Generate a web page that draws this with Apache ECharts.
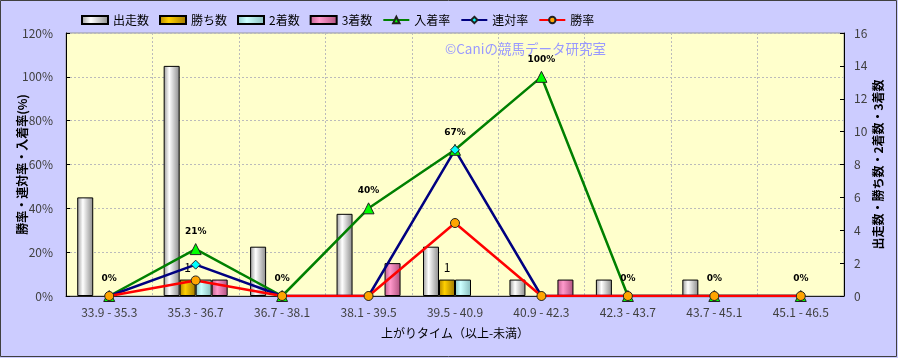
<!DOCTYPE html>
<html><head><meta charset="utf-8">
<script src="https://cdn.jsdelivr.net/npm/echarts@6/dist/echarts.min.js"></script>
<style>html,body{margin:0;padding:0;background:#ccccff;}#c{width:898px;height:358px;}</style>
</head><body><div id="c"></div>
<script>
const categories = ['33.9 - 35.3','35.3 - 36.7','36.7 - 38.1','38.1 - 39.5','39.5 - 40.9','40.9 - 42.3','42.3 - 43.7','43.7 - 45.1','45.1 - 46.5'];
const starts = [6, 14, 3, 5, 3, 1, 1, 1, 0];
const wins = [0, 1, 0, 0, 1, 0, 0, 0, 0];
const seconds = [0, 1, 0, 0, 1, 0, 0, 0, 0];
const thirds = [0, 1, 0, 2, 0, 1, 0, 0, 0];
const placeRate = [0, 21.4, 0, 40, 66.7, 100, 0, 0, 0];
const quinellaRate = [0, 14.3, 0, 0, 66.7, 0, 0, 0, 0];
const winRate = [0, 7.1, 0, 0, 33.3, 0, 0, 0, 0];

const FONT = '"Noto Sans CJK JP", "Noto Sans", sans-serif';
function cyl(edge, mid, edge2) {
  return {type:'linear', x:0, y:0, x2:1, y2:0, colorStops:[
    {offset:0, color:edge},{offset:0.35, color:mid},{offset:1, color:edge2}]};
}
function barSeries(name, data, grad, label) {
  return {
    name, type:'bar', yAxisIndex:1,
    data: data.map(v => v === 0 ? {value:0, itemStyle:{borderWidth:0, opacity:0}} : v),
    barWidth:16, barGap:'0%',
    itemStyle:{color:grad, borderColor:'#000', borderWidth:1},
    label: label ? {show:true, position:'top', distance:6, color:'#000', fontSize:12, fontFamily:FONT,
      formatter:p => p.value ? String(p.value) : ''} : {show:false},
    z:2
  };
}
function lineSeries(name, data, color, symbol, symColor, size, labels) {
  return {
    name, type:'line', yAxisIndex:0, data, symbol, symbolSize:size,
    lineStyle:{color, width:2.5},
    itemStyle:{color:symColor, borderColor:'#222', borderWidth:1},
    label: labels ? {show:true, position:'top', distance:7, color:'#000', fontSize:9, fontWeight:'bold',
      fontFamily:'"DejaVu Sans", sans-serif', formatter:p => Math.round(p.value) + '%'} : {show:false},
    z:5
  };
}
const chart = echarts.init(document.getElementById('c'), null, {renderer:'canvas'});
chart.setOption({
  animation:false,
  backgroundColor:'#ccccff',
  textStyle:{fontFamily:FONT},
  legend:{
    left:76, top:9, itemWidth:26, itemHeight:8, itemGap:10,
    textStyle:{fontSize:12, color:'#000', fontFamily:FONT},
    data:[
      {name:'出走数', icon:'rect'},{name:'勝ち数', icon:'rect'},{name:'2着数', icon:'rect'},{name:'3着数', icon:'rect'},
      {name:'入着率'},{name:'連対率'},{name:'勝率'}
    ]
  },
  grid:{left:66, right:54, top:33, bottom:62, containLabel:false, outerBoundsMode:'none',
        show:true, backgroundColor:'#ffffcc', borderColor:'#999', borderWidth:1},
  xAxis:{
    type:'category', data:categories, boundaryGap:true,
    name:'上がりタイム（以上-未満）', nameLocation:'middle', nameGap:31,
    nameTextStyle:{fontSize:12, color:'#000', fontFamily:FONT},
    axisLine:{lineStyle:{color:'#222'}}, axisTick:{show:false},
    axisLabel:{fontSize:12, color:'#404040', margin:10, fontFamily:FONT},
    splitLine:{show:true, lineStyle:{type:[2,2], color:'#bbb'}}
  },
  yAxis:[
    {type:'value', min:0, max:120, interval:20, position:'left',
     name:'勝率・連対率・入着率(%)', nameLocation:'middle', nameGap:38, nameRotate:90, nameMoveOverlap:false,
     nameTextStyle:{fontSize:12, fontWeight:'bold', color:'#000', fontFamily:FONT},
     axisLine:{show:true, lineStyle:{color:'#000'}}, axisTick:{show:true, inside:true, length:4, lineStyle:{color:'#000'}},
     axisLabel:{fontSize:12, color:'#404040', margin:13, formatter:v => v + '%'},
     splitLine:{show:true, lineStyle:{type:[2,2], color:'#bbb'}}},
    {type:'value', min:0, max:16, interval:2, position:'right',
     name:'出走数・勝ち数・2着数・3着数', nameLocation:'middle', nameGap:28, nameRotate:90, nameMoveOverlap:false,
     nameTextStyle:{fontSize:12, fontWeight:'bold', color:'#000', fontFamily:FONT},
     axisLine:{show:true, lineStyle:{color:'#000'}}, axisTick:{show:true, inside:true, length:4, lineStyle:{color:'#000'}},
     axisLabel:{fontSize:12, color:'#404040', margin:10},
     splitLine:{show:false}}
  ],
  graphic:[
    {type:'text', left:445, top:42, z:1, style:{text:'©Caniの競馬データ研究室', fill:'#9999ff', font:'13.5px ' + FONT}},
    {type:'rect', shape:{x:0.5, y:0.5, width:896, height:356}, style:{fill:'none', stroke:'#404040', lineWidth:1}, z:100}
  ],
  series:[
    barSeries('出走数', starts, cyl('#9a9a9a','#ffffff','#8a8a8a'), false),
    barSeries('勝ち数', wins, cyl('#b08400','#ffd000','#a07800'), true),
    barSeries('2着数', seconds, cyl('#8cc8c8','#ccffff','#88bcbc'), false),
    barSeries('3着数', thirds, cyl('#c0608e','#ff99cc','#b0507e'), false),
    lineSeries('入着率', placeRate, '#008000', 'triangle', '#00ff00', 11, true),
    lineSeries('連対率', quinellaRate, '#000080', 'diamond', '#00ffff', 9, false),
    lineSeries('勝率', winRate, '#ff0000', 'circle', '#ffa500', 9, false)
  ]
});
</script></body></html>
